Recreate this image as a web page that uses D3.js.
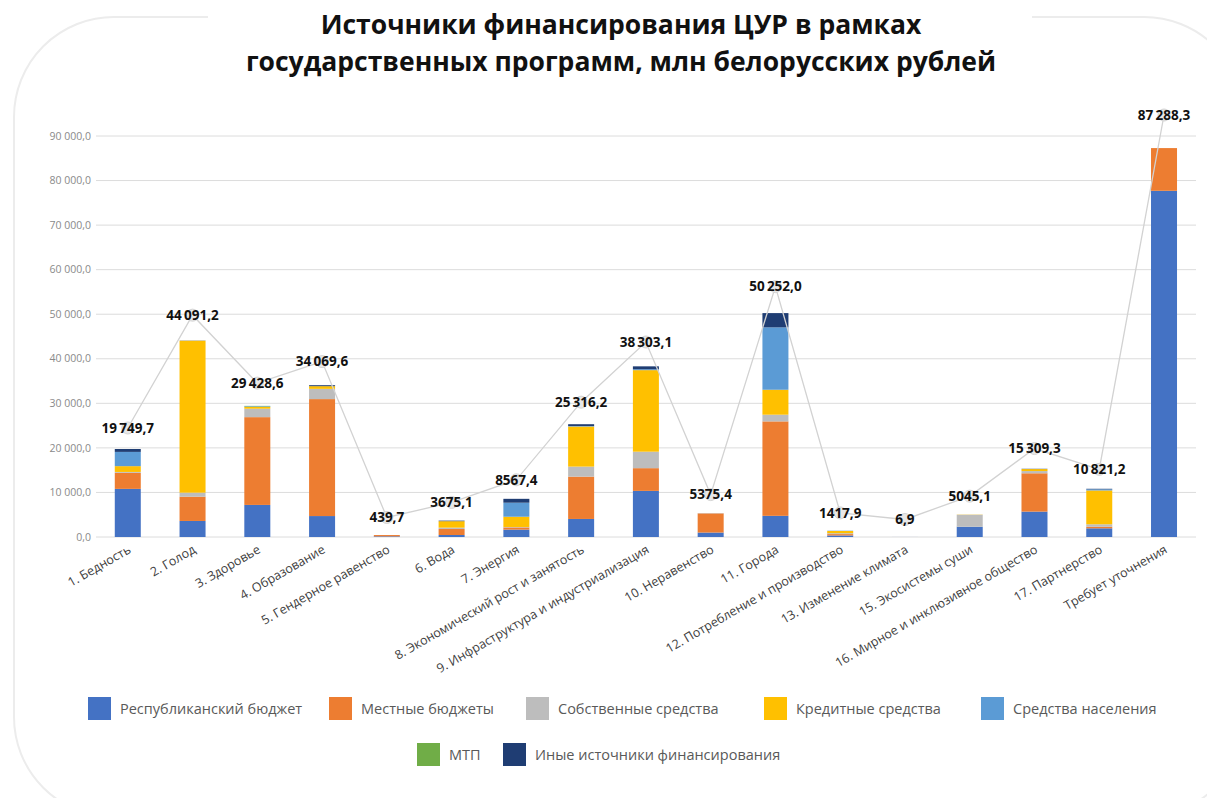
<!DOCTYPE html>
<html>
<head>
<meta charset="utf-8">
<script src="https://cdn.jsdelivr.net/npm/d3@7"></script>
<style>
  body { margin: 0; background: #fff; }
  svg { display: block; }
</style>
</head>
<body>
<div id="content"></div>
<script>
// chart data
const categories = ["1. Бедность", "2. Голод", "3. Здоровье", "4. Образование", "5. Гендерное равенство",
  "6. Вода", "7. Энергия", "8. Экономический рост и занятость", "9. Инфраструктура и индустриализация",
  "10. Неравенство", "11. Города", "12. Потребление и производство", "13. Изменение климата",
  "15. Экосистемы суши", "16. Мирное и инклюзивное общество", "17. Партнерство", "Требует уточнения"];

const seriesNames = ["Республиканский бюджет", "Местные бюджеты", "Собственные средства", "Кредитные средства",
  "Средства населения", "МТП", "Иные источники финансирования"];

const republican = [10800, 3600, 7200, 4700, 150, 450, 1650, 4050, 10350, 1000, 4750, 350, 6.9, 2300, 5700, 1950, 77700];
const local      = [3600, 5450, 19700, 26250, 289.7, 1350, 500, 9500, 5100, 4300, 21200, 300, 0, 0, 8600, 350, 9588.3];
const own        = [200, 900, 1900, 2300, 0, 300, 100, 2250, 3700, 75.4, 1500, 200, 0, 2700, 500, 550, 0];
const credit     = [1300, 34100, 400, 600, 0, 1450, 2300, 9000, 18300, 0, 5600, 500, 0, 45.1, 450, 7600, 0];
const population = [3200, 0, 128.6, 0, 0, 0, 3150, 100, 200, 0, 14000, 67.9, 0, 0, 0, 250, 0];
const mtp        = [0, 0, 100, 0, 0, 0, 0, 0, 0, 0, 0, 0, 0, 0, 0, 0, 0];
const other      = [649.7, 41.2, 0, 219.6, 0, 125.1, 867.4, 416.2, 653.1, 0, 3202, 0, 0, 0, 59.3, 121.2, 0];

const totals = [19749.7, 44091.2, 29428.6, 34069.6, 439.7, 3675.1, 8567.4, 25316.2, 38303.1, 5375.4,
  50252.0, 1417.9, 6.9, 5045.1, 15309.3, 10821.2, 87288.3];

const yTicks = [0, 10000, 20000, 30000, 40000, 50000, 60000, 70000, 80000, 90000];

const colors = ["#4472C4", "#ED7D31", "#BDBDBD", "#FFC000", "#5B9BD5", "#70AD47", "#1F3D73"];

const W = 1207, H = 798;

const svg = d3.select("#content").append("svg")
  .attr("width", W).attr("height", H);

// rounded frame
svg.append("rect")
  .attr("x", 14).attr("y", 17)
  .attr("width", 1230).attr("height", 800)
  .attr("rx", 100).attr("ry", 100)
  .style("fill", "none")
  .style("stroke", "#ececec")
  .style("stroke-width", 2);

svg.append("rect")
  .attr("x", 208).attr("y", 0).attr("width", 824).attr("height", 40)
  .style("fill", "#fff");

// title
const title = svg.append("text")
  .attr("text-anchor", "middle")
  .style("font-family", "'Open Sans', 'Noto Sans', sans-serif")
  .style("font-weight", "700")
  .style("font-size", "26.5px")
  .style("fill", "#111");
title.append("tspan").attr("x", 621).attr("y", 34).text("Источники финансирования ЦУР в рамках");
title.append("tspan").attr("x", 621).attr("y", 71).text("государственных программ, млн белорусских рублей");

// scales
const x = d3.scaleBand().domain(categories).range([95.4, 1196.4]).paddingInner(0.6).paddingOuter(0.3);
const y = d3.scaleLinear().domain([0, 90000]).range([537, 136]);
const y2 = d3.scaleLinear().domain([0, 100000]).range([519.5, 56.1]);

function fmtAxis(v) {
  let s = d3.format(",.1f")(v);
  return s.replace(/,/g, " ").replace(".", ",");
}
function fmtLabel(v) {
  let s = v >= 10000 ? d3.format(",.1f")(v) : d3.format(".1f")(v);
  return s.replace(/,/g, "\u2009").replace(".", ",");
}

// gridlines + y axis labels
const grid = svg.append("g");
yTicks.forEach(function(t) {
  grid.append("line")
    .attr("x1", 96).attr("x2", 1196)
    .attr("y1", y(t)).attr("y2", y(t))
    .style("stroke", "#dcdcdc")
    .style("stroke-width", 1);
  grid.append("text")
    .attr("x", 91).attr("y", y(t))
    .attr("dy", "0.35em")
    .attr("text-anchor", "end")
    .style("font-family", "'Open Sans', 'Noto Sans', sans-serif")
    .style("font-size", "10.5px")
    .style("fill", "#8a8a8a")
    .text(fmtAxis(t));
});

// stacked bars
const allSeries = [republican, local, own, credit, population, mtp, other];
const table = categories.map(function(c, i) {
  let row = { cat: c };
  seriesNames.forEach(function(n, k) { row[n] = allSeries[k][i]; });
  return row;
});
const stacked = d3.stack().keys(seriesNames)(table);

const bw = 26;
svg.append("g").selectAll("g")
  .data(stacked)
  .join("g")
  .style("fill", function(d, i) { return colors[i]; })
  .selectAll("rect")
  .data(function(d) { return d; })
  .join("rect")
  .attr("x", function(d) { return x(d.data.cat) + x.bandwidth() / 2 - bw / 2; })
  .attr("width", bw)
  .attr("y", function(d) { return y(d[1]); })
  .attr("height", function(d) { return Math.max(0, y(d[0]) - y(d[1])); });

// x labels
svg.append("g").selectAll("text")
  .data(categories)
  .join("text")
  .attr("transform", function(d) {
    return "translate(" + (x(d) + x.bandwidth() / 2 + 4) + ",552) rotate(-30)";
  })
  .attr("text-anchor", "end")
  .style("font-family", "'Open Sans', 'Noto Sans', sans-serif")
  .style("font-size", "12.5px")
  .style("fill", "#404040")
  .text(function(d) { return d; });

// totals line
const cx = function(i) { return x(categories[i]) + x.bandwidth() / 2; };
const line = d3.line()
  .x(function(d, i) { return cx(i); })
  .y(function(d) { return y2(d); });

svg.append("path")
  .datum(totals)
  .attr("d", line)
  .style("fill", "none")
  .style("stroke", "#d2d2d2")
  .style("stroke-width", 1.3);

svg.append("g").selectAll("circle")
  .data(totals)
  .join("circle")
  .attr("cx", function(d, i) { return cx(i); })
  .attr("cy", function(d) { return y2(d); })
  .attr("r", 6)
  .style("fill", "#e8e8e8")
  .style("stroke", "#d4d4d4")
  .style("stroke-width", 1);

svg.append("g").selectAll("text")
  .data(totals)
  .join("text")
  .attr("x", function(d, i) { return cx(i); })
  .attr("y", function(d) { return y2(d); })
  .attr("dy", "0.35em")
  .attr("text-anchor", "middle")
  .style("font-family", "'Noto Sans', 'Open Sans', sans-serif")
  .style("font-weight", "700")
  .style("font-size", "13.5px")
  .style("fill", "#111")
  .text(function(d) { return fmtLabel(d); });

// legend
const legendPos = [[88, 708], [329, 708], [526, 708], [764, 708], [981, 708], [417, 754], [503, 754]];
const legend = svg.append("g");
seriesNames.forEach(function(n, i) {
  let p = legendPos[i];
  legend.append("rect")
    .attr("x", p[0]).attr("y", p[1] - 11)
    .attr("width", 23).attr("height", 23)
    .style("fill", colors[i]);
  legend.append("text")
    .attr("x", p[0] + 32).attr("y", p[1] + 1)
    .attr("dy", "0.35em")
    .style("font-family", "'Open Sans', 'Noto Sans', sans-serif")
    .style("font-size", "14.5px")
    .style("fill", "#595959")
    .text(n);
});
</script>
</body>
</html>
